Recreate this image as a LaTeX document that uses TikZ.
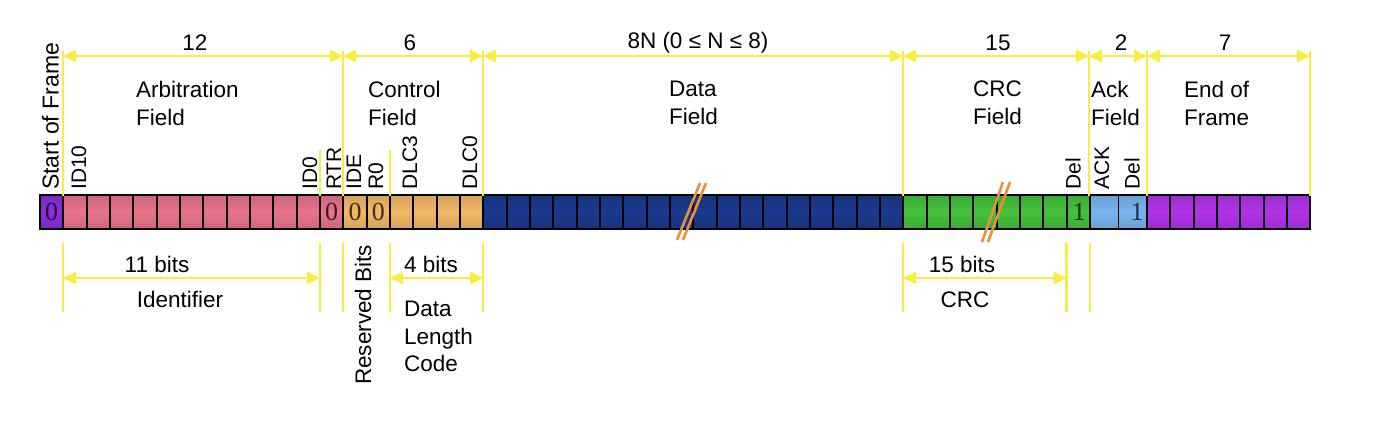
\documentclass[tikz,border=0pt]{standalone}
\usepackage{fontspec}
\setmainfont{Liberation Sans}
\newfontfamily\bitfamily{Liberation Serif}
\usetikzlibrary{arrows.meta}
\definecolor{ylw}{HTML}{F9EE3F}
\definecolor{sofc}{HTML}{8C2FD9}
\definecolor{pinkc}{HTML}{E8748C}
\definecolor{ctrlc}{HTML}{F2B866}
\definecolor{datac}{HTML}{1B3A8E}
\definecolor{crcc}{HTML}{45C23C}
\definecolor{ackc}{HTML}{78B6EE}
\definecolor{eofc}{HTML}{B233EA}
\definecolor{brkc}{HTML}{E8903A}
\tikzset{
  yl/.style={draw=ylw, line width=2.8pt},
  dim/.style={draw=ylw, line width=2.8pt, {Triangle[length=13pt,width=12pt]}-{Triangle[length=13pt,width=12pt]}},
  lbl/.style={font=\fontsize{22.5}{28}\selectfont, inner sep=0pt},
  vlbl/.style={font=\fontsize{21}{24}\selectfont, rotate=90, anchor=west, inner sep=0pt},
  bitlbl/.style={font=\bitfamily\fontsize{26}{30}\selectfont, inner sep=0pt, text opacity=0.75},
  cellbox/.style={draw=black, line width=1.7pt, top color=#1!88!black, bottom color=#1!88!black, middle color=#1},
  brk/.style={draw=brkc, line width=2.6pt},
}
\newcommand\cellrow[4]{%
  \foreach \i in {1,...,#2}{%
    \path[cellbox=#4] ({#1+(\i-1)*#3},195) rectangle ++(#3,34);}}
\begin{document}
\begin{tikzpicture}[x=1pt,y=-1pt]
\useasboundingbox[fill=white] (0,0) rectangle (1384,434);

% ---- cells ----
\cellrow{40}{1}{23.333}{sofc}
\cellrow{63.333}{12}{23.333}{pinkc}
\cellrow{343.333}{6}{23.333}{ctrlc}
\cellrow{483.333}{18}{23.333}{datac}
\cellrow{903.333}{8}{23.333}{crcc}
\cellrow{1090}{2}{28.5}{ackc}
\cellrow{1147}{7}{23.333}{eofc}
\draw[line width=1.8pt] (40,195) rectangle (1310.33,229);

% ---- bit values ----
\node[bitlbl] (b0) at (51.5,212) {0};
\node[bitlbl] (b1) at (331.7,212) {0};
\node[bitlbl] (b2) at (355,212) {0};
\node[bitlbl] (b3) at (378.3,212) {0};
\node[bitlbl] (b4) at (1079,212) {1};
\node[bitlbl] (b5) at (1137,212) {1};

% ---- break marks ----
\draw[brk] (677,240) -- (700,183);
\draw[brk] (683,240) -- (706,183);
\draw[brk] (982,242) -- (1003,182);
\draw[brk] (988,242) -- (1010,182);

% ---- top dimension lines ----
\foreach \x [count=\k] in {63,343,483,903,1089,1147,1310}{
  \coordinate (vt\k) at (\x,51);
  \coordinate (vb\k) at (\x,196);
  \coordinate (da\k) at (\x,56);
  \draw[yl] (vt\k) -- (vb\k);
}
\foreach \a/\b in {1/2,2/3,3/4,4/5,5/6,6/7}{
  \draw[dim] (da\a) -- (da\b);
}
\coordinate (s1t) at (320,150); \coordinate (s1b) at (320,196);
\coordinate (s2t) at (390,150); \coordinate (s2b) at (390,196);
\draw[yl] (s1t) -- (s1b);
\draw[yl] (s2t) -- (s2b);

\node[lbl] (n12) at (195,43) {12};
\node[lbl] (n6) at (410,43) {6};
\node[lbl] (n8n) at (698,43) {8N (0 ≤ N ≤ 8)};
\node[lbl] (n15) at (998,43) {15};
\node[lbl] (n2) at (1121,43) {2};
\node[lbl] (n7) at (1225,43) {7};

% ---- field labels ----
\node[lbl, align=left, anchor=west] (farb) at (136,103) {Arbitration\\Field};
\node[lbl, align=left, anchor=west] (fctl) at (368,103) {Control\\Field};
\node[lbl, align=left, anchor=west] (fdat) at (669,103) {Data\\Field};
\node[lbl, align=left, anchor=west] (fcrc) at (973,103) {CRC\\Field};
\node[lbl, align=left, anchor=west] (fack) at (1091,103) {Ack\\Field};
\node[lbl, align=left, anchor=west] (feof) at (1184,103) {End of\\Frame};

% ---- rotated bit names ----
\node[vlbl, font=\fontsize{23}{26}\selectfont] (vsof) at (50.5,190) {Start of Frame};
\node[vlbl] (vid10) at (79,190) {ID10};
\node[vlbl] (vid0) at (310,190) {ID0};
\node[vlbl] (vrtr) at (334,190) {RTR};
\node[vlbl] (vide) at (354,190) {IDE};
\node[vlbl] (vr0) at (376,190) {R0};
\node[vlbl] (vdlc3) at (410,190) {DLC3};
\node[vlbl] (vdlc0) at (470,190) {DLC0};
\node[vlbl] (vdel1) at (1073,190) {Del};
\node[vlbl] (vack) at (1102,190) {ACK};
\node[vlbl] (vdel2) at (1132,190) {Del};

% ---- bottom dimension lines ----
\foreach \x [count=\k] in {63,320,343,390,483,903,1066.7,1090}{
  \coordinate (wt\k) at (\x,243);
  \coordinate (wb\k) at (\x,312);
  \coordinate (wa\k) at (\x,278);
  \draw[yl] (wt\k) -- (wb\k);
}
\draw[dim] (wa1) -- (wa2);
\draw[dim] (wa4) -- (wa5);
\draw[dim] (wa6) -- (wa7);

\node[lbl] (l11) at (157,264.5) {11 bits};
\node[lbl] (lid) at (180,299.5) {Identifier};
\node[lbl] (l4) at (431,264.5) {4 bits};
\node[lbl, align=left, anchor=west, font=\fontsize{22.5}{27.5}\selectfont] (ldlc) at (404,336.5) {Data\\Length\\Code};
\node[lbl] (l15) at (962,264.5) {15 bits};
\node[lbl] (lcrc) at (965,299.5) {CRC};
\node[vlbl, font=\fontsize{22.5}{26}\selectfont] (lres) at (363,385) {Reserved Bits};
\end{tikzpicture}
\end{document}
